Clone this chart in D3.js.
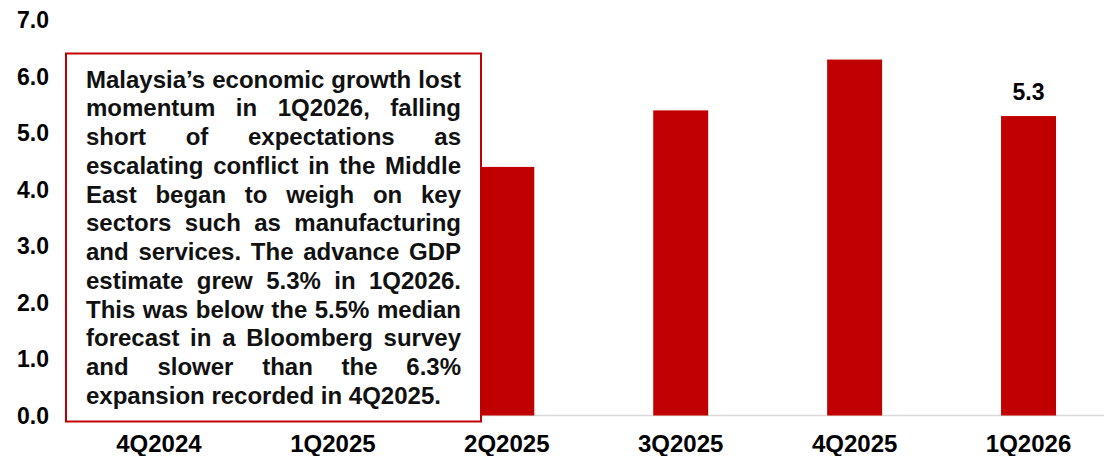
<!DOCTYPE html>
<html>
<head>
<meta charset="utf-8">
<script src="https://cdn.jsdelivr.net/npm/d3@7"></script>
<style>
  body { margin: 0; background: #fff; }
  svg { display: block; font-family: "Liberation Sans", Arial, sans-serif; font-weight: bold; }
</style>
</head>
<body>
<svg id="chart" width="1104" height="456"></svg>
<script>
// Real GDP growth, % YoY
var quarters = ['4Q2024', '1Q2025', '2Q2025', '3Q2025', '4Q2025', '1Q2026'];
var growth = [4.9, 4.4, 4.4, 5.4, 6.3, 5.3];
var yTicks = [0, 1, 2, 3, 4, 5, 6, 7];
var labelledQuarters = ['1Q2026'];

var noteLines = [
  'Malaysia\u2019s economic growth lost',
  'momentum in 1Q2026, falling',
  'short of expectations as',
  'escalating conflict in the Middle',
  'East began to weigh on key',
  'sectors such as manufacturing',
  'and services. The advance GDP',
  'estimate grew 5.3% in 1Q2026.',
  'This was below the 5.5% median',
  'forecast in a Bloomberg survey',
  'and slower than the 6.3%',
  'expansion recorded in 4Q2025.'
];

var red = '#c00000';
var svg = d3.select('#chart');

var x = d3.scaleBand()
  .domain(quarters)
  .range([72, 1115.5])
  .paddingInner(0.684)
  .paddingOuter(0.342);

var y = d3.scaleLinear().domain([0, 7]).range([415.5, 20]);

// y tick labels (no axis line)
svg.append('g').selectAll('text')
  .data(yTicks)
  .enter().append('text')
    .attr('x', 49)
    .attr('y', function(d) { return y(d); })
    .attr('dy', '0.35em')
    .attr('text-anchor', 'end')
    .style('font-size', '23px')
    .attr('fill', '#000')
    .text(function(d) { return d3.format('.1f')(d); });

// baseline
svg.append('line')
  .attr('x1', x.range()[0]).attr('x2', x.range()[1])
  .attr('y1', y(0)).attr('y2', y(0))
  .attr('stroke', '#d9d9d9').attr('stroke-width', 1.5);

// bars
svg.append('g').selectAll('rect')
  .data(quarters)
  .enter().append('rect')
    .attr('x', function(d) { return x(d); })
    .attr('width', x.bandwidth())
    .attr('y', function(d, i) { return y(growth[i]); })
    .attr('height', function(d, i) { return y(0) - y(growth[i]); })
    .attr('fill', red);

// data label on latest quarter
svg.append('g').selectAll('text')
  .data(labelledQuarters)
  .enter().append('text')
    .attr('x', function(d) { return x(d) + x.bandwidth() / 2; })
    .attr('y', function(d) { return y(growth[quarters.indexOf(d)]) - 16; })
    .attr('text-anchor', 'middle')
    .style('font-size', '23px')
    .attr('fill', '#000')
    .text(function(d) { return d3.format('.1f')(growth[quarters.indexOf(d)]); });

// x category labels
svg.append('g').selectAll('text')
  .data(quarters)
  .enter().append('text')
    .attr('x', function(d) { return x(d) + x.bandwidth() / 2; })
    .attr('y', 452)
    .attr('text-anchor', 'middle')
    .style('font-size', '24px')
    .attr('fill', '#000')
    .text(function(d) { return d; });

// commentary box over the first two bars
var box = { x: 66, y: 53.5, w: 415, h: 368 };
svg.append('rect')
  .attr('x', box.x).attr('y', box.y)
  .attr('width', box.w).attr('height', box.h)
  .attr('fill', '#fff')
  .attr('stroke', red).attr('stroke-width', 2);

var textLeft = 86, textRight = 461, lineGap = 28.75, firstBase = 87.5;
var note = svg.append('g').style('font-size', '24px').attr('fill', '#111');

// justify every line but the last by spreading the gaps between words
noteLines.forEach(function(line, i) {
  var words = line.split(' ');
  var t = note.append('text').attr('y', firstBase + i * lineGap);
  var spans = words.map(function(w) {
    return t.append('tspan').text(w);
  });
  var widths = spans.map(function(s) { return s.node().getComputedTextLength(); });
  var total = d3.sum(widths);
  var gap = (i < noteLines.length - 1 && words.length > 1)
    ? Math.max(3, (textRight - textLeft - total) / (words.length - 1))
    : 6.7;
  var cx = textLeft;
  spans.forEach(function(s, j) {
    s.attr('x', cx);
    cx += widths[j] + gap;
  });
});
</script>
</body>
</html>
